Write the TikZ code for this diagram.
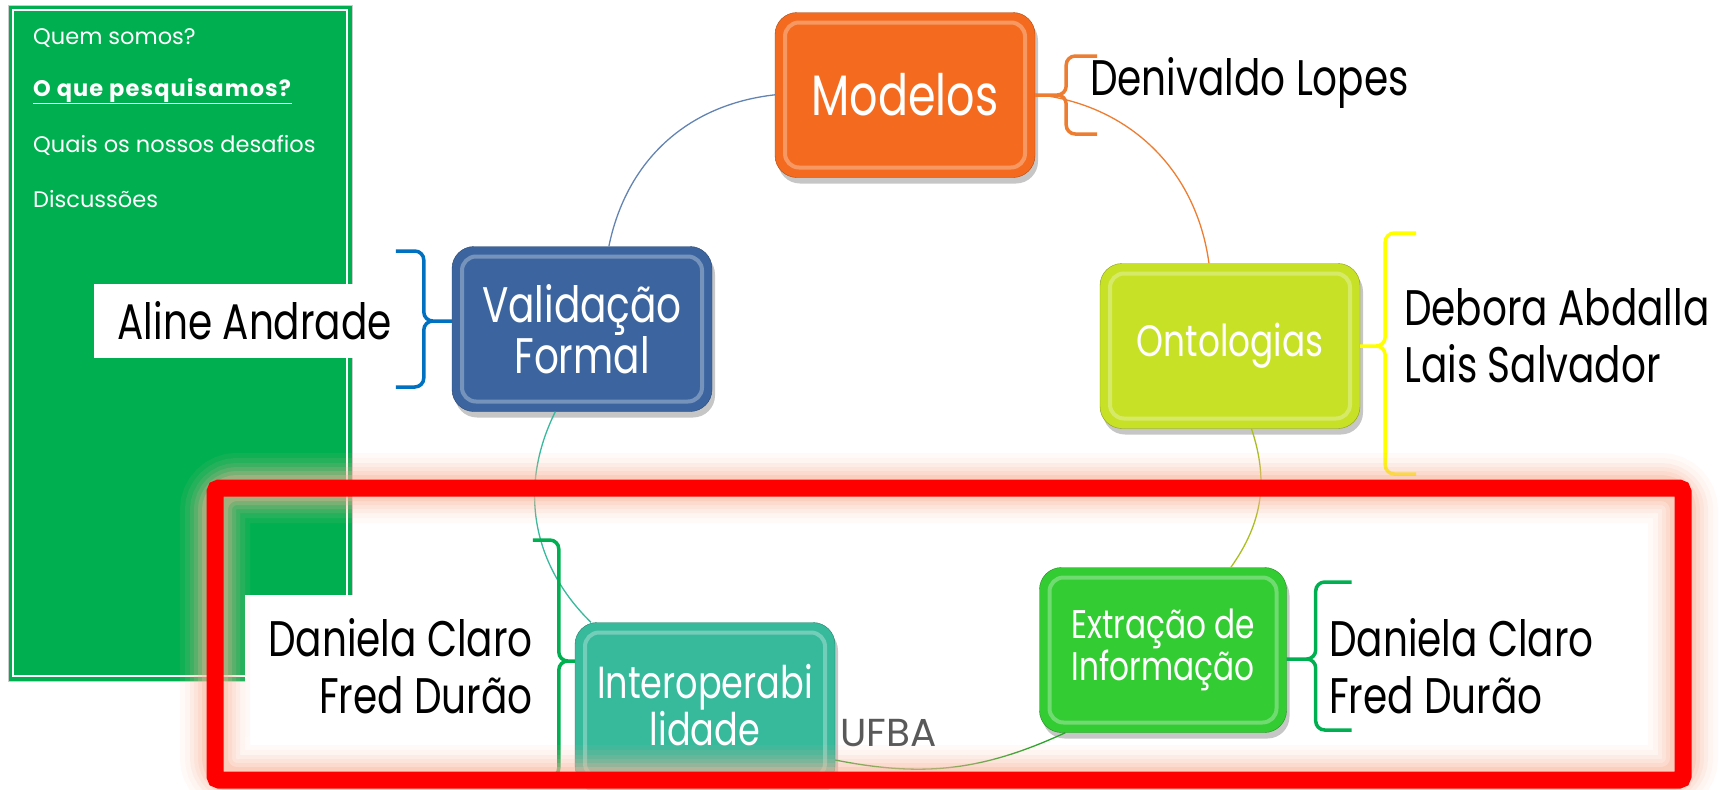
\documentclass[tikz,border=0pt]{standalone}
\usepackage{fontspec}
\setmainfont{Poppins}
\newfontfamily\twcen[FakeStretch=0.78]{Poppins}
\usetikzlibrary{positioning}
\usetikzlibrary{shadows}

\definecolor{panelgreen}{HTML}{00B050}
\definecolor{modorange}{HTML}{F46B1F}
\definecolor{valblue}{HTML}{3C65A0}
\definecolor{ontyellow}{HTML}{C7E126}
\definecolor{extgreen}{HTML}{33CC33}
\definecolor{intteal}{HTML}{37B99B}
\definecolor{braceorange}{HTML}{ED7D31}
\definecolor{braceblue}{HTML}{0070C0}
\definecolor{braceyellow}{HTML}{FFFF00}
\definecolor{bracegreen}{HTML}{00B050}
\definecolor{glowred}{HTML}{F9B49A}
\definecolor{ufbagray}{HTML}{595959}

\begin{document}
\begin{tikzpicture}[x=1pt, y=-1pt,
	topic/.style={rounded corners=22pt, minimum width=260pt, minimum height=165pt, text=white, align=center,
		draw=#1!70!black, fill=#1, drop shadow={opacity=0.45, shadow xshift=3pt, shadow yshift=-6pt},
		path picture={\draw[white, opacity=0.3, line width=4pt, rounded corners=14pt]
			([shift={(10pt,-10pt)}]path picture bounding box.north west) rectangle ([shift={(-10pt,10pt)}]path picture bounding box.south east);}},
	who/.style={font=\twcen\fontsize{50}{57}\selectfont, text=black, inner sep=0pt},
	menu/.style={font=\fontsize{22.5}{22.5}\selectfont, text=white, anchor=west, inner sep=0pt},
	brc/.style={line width=3.5pt, rounded corners=9pt},
	link/.style={line width=1.3pt},
	halo/.style={glowred, rounded corners=22pt}]
					\useasboundingbox (0,0) rectangle (1722,790);
					% left menu
					\fill[panelgreen] (8,5) rectangle (352,681);
					\draw[black!20, line width=1pt] (8,5) rectangle (352,681);
					\draw[white, line width=1.5pt] (13,10) rectangle (347,676);
					\node[menu] (quem) at (33,38) {Quem somos?};
					\node[menu] (pesq) at (33,91) {\addfontfeatures{LetterSpace=5}\underline{\textbf{O que pesquisamos?}}};
					\node[menu] (desaf) at (33,145) {Quais os nossos desafios};
					\node[menu] (disc) at (33,199) {Discussões};
					% names
					\node[who, fill=white, inner xsep=24pt, minimum height=74pt, anchor=east] (aline) at (416,321) {Aline Andrade};
					\node[who, fill=white, inner sep=23pt, align=right, anchor=east] (dcleft) at (556,666) {Daniela Claro\\Fred Durão};
					\node[who, anchor=west] (lopes) at (1090,83) {Denivaldo Lopes};
					\node[who, align=left, anchor=west] (debora) at (1404,336) {Debora Abdalla\\Lais Salvador};
					\node[who, align=left, anchor=west] (dcright) at (1329,666) {Daniela Claro\\Fred Durão};
					% topics
					\node[topic=modorange, font=\twcen\fontsize{57}{60}\selectfont] (mod) at (905,95) {Modelos};
					\node[topic=valblue, font=\twcen\fontsize{50}{49}\selectfont] (val) at (582,329) {Validação\\Formal};
					\node[topic=ontyellow, font=\twcen\fontsize{44}{48}\selectfont] (ont) at (1230,346) {Ontologias};
					\node[topic=extgreen, minimum width=247pt, font=\twcen\fontsize{40}{34}\selectfont] (ext) at (1163,650) {Extração de\\Informação};
					\node[topic=intteal, font=\twcen\fontsize{45}{42}\selectfont] (int) at (705,705) {Interoperabi\\lidade};
					\draw[link, valblue!80] (val) to[bend left=36] (mod);
					\draw[link, braceorange] (mod) to[bend left=38] (ont);
					\draw[link, ontyellow!85!black] (ont) to[bend left=27] (ext);
					\draw[link, extgreen!80!black] ([xshift=26pt]ext.south west) to[bend left=18] ([yshift=-55pt]int.east);
					\draw[link, intteal] (int) to[bend left=36] (val);
					% braces
					\draw[brc, braceorange] (mod.east) -- ++(31,0) |- ++(31,-39) (mod.east) -- ++(31,0) |- ++(31,39);
					\draw[brc, braceblue] ([yshift=8pt]val.west) -- ++(-28,0) |- ++(-28,-70) ([yshift=8pt]val.west) -- ++(-28,0) |- ++(-28,66);
					\draw[brc, braceyellow] (ont.east) -- ++(25,0) |- ++(31,-113) (ont.east) -- ++(25,0) |- ++(31,128);
					\draw[brc, bracegreen] ([yshift=-9pt]ext.east) -- ++(29,0) |- ++(36,-77) ([yshift=-9pt]ext.east) -- ++(29,0) |- ++(36,71);
					\draw[brc, bracegreen] ([yshift=44pt]int.west) -- ++(-16,0) |- ++(-26,-121) ([yshift=44pt]int.west) -- ++(-16,0) |- ++(-26,116);
					\node[font=\fontsize{39}{39}\selectfont, text=ufbagray, anchor=west, inner sep=0pt] (ufba) at (840,733) {UFBA};
					% highlight
					\draw[halo, line width=70pt, opacity=0.07] (215,488) rectangle (1683,780);
					\draw[halo, line width=60pt, opacity=0.09] (215,488) rectangle (1683,780);
					\draw[halo, line width=50pt, opacity=0.12] (215,488) rectangle (1683,780);
					\draw[halo, line width=42pt, opacity=0.15] (215,488) rectangle (1683,780);
					\draw[halo, line width=34pt, opacity=0.2] (215,488) rectangle (1683,780);
					\draw[halo, line width=26pt, opacity=0.3] (215,488) rectangle (1683,780);
					\draw[red, line width=17pt, rounded corners=4pt] (215,488) rectangle (1683,780);
				\end{tikzpicture}
\end{document}
